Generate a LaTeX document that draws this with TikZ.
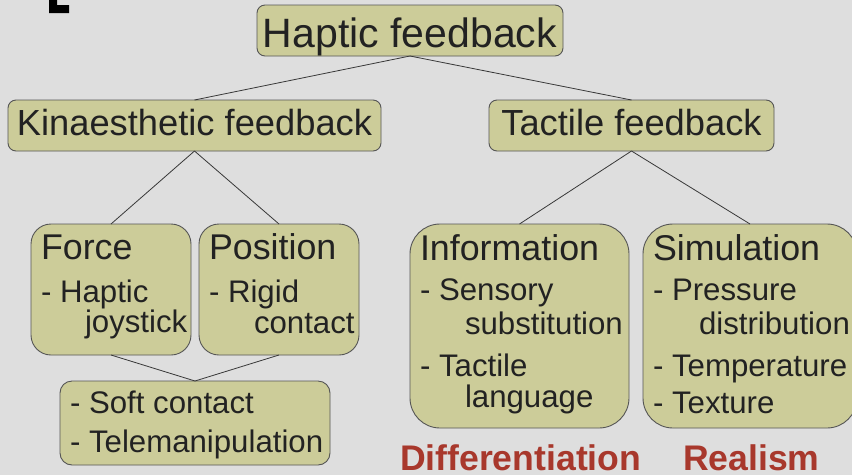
\documentclass[tikz,border=0pt]{standalone}
\usepackage{fontspec}
\setmainfont{Liberation Sans}
\definecolor{bgc}{HTML}{DEDEDE}
\definecolor{boxc}{HTML}{CCCC99}
\definecolor{edgec}{HTML}{555555}
\definecolor{txtc}{HTML}{222222}
\definecolor{redc}{HTML}{A8382C}
\begin{document}
\begin{tikzpicture}[x=1pt,y=-1pt,
  box/.style={draw=edgec,fill=boxc,line width=0.9pt,inner sep=0pt,outer sep=0pt},
  ttl/.style={inner sep=0pt,outer sep=0pt,text=txtc,font=\fontsize{35.8}{40}\selectfont},
  big/.style={inner sep=0pt,outer sep=0pt,text=txtc,font=\fontsize{41}{46}\selectfont},
  mid/.style={inner sep=0pt,outer sep=0pt,text=txtc,font=\fontsize{36.3}{42}\selectfont},
  itm/.style={inner sep=0pt,outer sep=0pt,text=txtc,anchor=base west,font=\fontsize{31.2}{36}\selectfont},
  lbl/.style={inner sep=0pt,outer sep=0pt,text=redc,anchor=base west,font=\bfseries\fontsize{35.6}{40}\selectfont},
  link/.style={draw=txtc!90,line width=0.8pt}]
\fill[bgc] (0,0) rectangle (852,475);
\useasboundingbox (0,0) rectangle (852,475);
% corner mark
\fill[black] (49,0) -- (57,0) -- (57,5) -- (69,5) -- (69,13) -- (49,13) -- cycle;
% boxes
\node[box,rounded corners=8pt,minimum width=306pt,minimum height=51pt] (hap) at (410,30.5) {};
\node[box,rounded corners=8pt,minimum width=373pt,minimum height=51pt] (kin) at (194.5,125.5) {};
\node[box,rounded corners=8pt,minimum width=285pt,minimum height=51pt] (tac) at (631.5,125.5) {};
\node[box,rounded corners=20pt,minimum width=160pt,minimum height=131pt] (frc) at (111,289.5) {};
\node[box,rounded corners=20pt,minimum width=160pt,minimum height=131pt] (pos) at (279,289.5) {};
\node[box,rounded corners=12pt,minimum width=270pt,minimum height=84pt] (soft) at (195,423) {};
\node[box,rounded corners=30pt,minimum width=219pt,minimum height=204pt] (inf) at (519.5,326) {};
\node[box,rounded corners=30pt,minimum width=214pt,minimum height=204pt] (sim) at (750,326) {};
% connectors
\draw[link] (hap.south) -- (kin.north);
\draw[link] (hap.south) -- (tac.north);
\draw[link] (kin.south) -- (frc.north);
\draw[link] (kin.south) -- (pos.north);
\draw[link] (frc.south) -- (soft.north);
\draw[link] (pos.south) -- (soft.north);
\draw[link] (tac.south) -- (inf.north);
\draw[link] (tac.south) -- (sim.north);
% titles
\node[big,anchor=base] (thap) at (410,47) {Haptic feedback};
\node[mid,anchor=base] (tkin) at (194.5,135) {Kinaesthetic feedback};
\node[mid,anchor=base] (ttac) at (631.5,135) {Tactile feedback};
\node[ttl,anchor=base west] (tfrc) at (41,259) {Force};
\node[ttl,anchor=base west] (tpos) at (209,259) {Position};
\node[ttl,anchor=base west] (tinf) at (420,260) {Information};
\node[ttl,anchor=base west] (tsim) at (653,260) {Simulation};
% items
\node[itm] (f1) at (41,302) {- Haptic};
\node[itm] (f2) at (85,332) {joystick};
\node[itm] (p1) at (209,302) {- Rigid};
\node[itm] (p2) at (254,333) {contact};
\node[itm] (s1) at (70,413) {- Soft contact};
\node[itm] (s2) at (70,452) {- Telemanipulation};
\node[itm] (i1) at (420,300) {- Sensory};
\node[itm] (i2) at (465,334) {substitution};
\node[itm] (i3) at (420,376) {- Tactile};
\node[itm] (i4) at (465,407) {language};
\node[itm] (m1) at (653,300) {- Pressure};
\node[itm] (m2) at (699,334) {distribution};
\node[itm] (m3) at (653,376) {- Temperature};
\node[itm] (m4) at (653,413) {- Texture};
% labels
\node[lbl] (ldiff) at (400,470) {Differentiation};
\node[lbl] (lreal) at (683,470) {Realism};
\end{tikzpicture}
\end{document}
